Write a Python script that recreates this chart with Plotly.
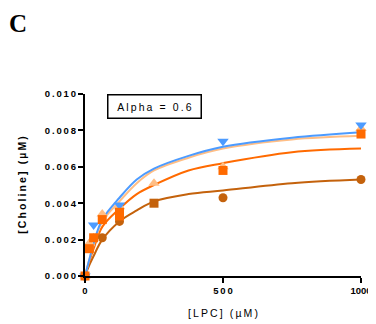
import plotly.graph_objects as go

# ---- data ----
lpc_fit = [0, 15.6, 31.25, 62.5, 125, 187.5, 250, 375, 500, 750, 1000]
fit_blue = [0, 0.0009, 0.0018, 0.0031, 0.0043, 0.0053, 0.0059, 0.0066, 0.0071, 0.0076, 0.0079]
fit_light = [0, 0.0009, 0.0017, 0.0030, 0.0041, 0.0051, 0.0058, 0.0065, 0.0070, 0.0075, 0.0077]
fit_orange = [0, 0.0008, 0.0015, 0.0027, 0.0037, 0.0045, 0.0050, 0.0058, 0.0062, 0.0068, 0.0070]
fit_brown = [0, 0.0006, 0.0011, 0.0020, 0.0030, 0.0036, 0.0041, 0.0045, 0.0047, 0.0051, 0.0053]

blue_x = [0, 31.25, 125, 500, 1000]
blue_y = [0, 0.0028, 0.0039, 0.0074, 0.0083]
light_x = [0, 15.6, 31.25, 62.5, 125, 250, 500, 1000]
light_y = [0, 0.0018, 0.0021, 0.0034, 0.0038, 0.0051, 0.0060, 0.0081]
orange_x = [0, 15.6, 31.25, 62.5, 125, 125, 500, 1000]
orange_y = [0, 0.0015, 0.0021, 0.0031, 0.0035, 0.0033, 0.0058, 0.0078]
brown_x = [0, 62.5, 125, 250, 500, 1000]
brown_y = [0, 0.0021, 0.0030, 0.0040, 0.0043, 0.0053]
brown_sym = ["circle", "circle", "circle", "square", "circle", "circle"]

y_ticks = [0, 0.002, 0.004, 0.006, 0.008, 0.010]
y_ticklabels = ["0.000", "0.002", "0.004", "0.006", "0.008", "0.010"]
x_ticks = [0, 500, 1000]
x_ticklabels = ["0", "500", "1000"]

C_BLUE = "#4C9BFF"
C_LIGHT = "#FFBE85"
C_ORANGE = "#FF6A00"
C_BROWN = "#C4620C"

TS = "\u2009"


def spaced(s):
    return TS.join(list(s))


fig = go.Figure()

for ys, col in [(fit_brown, C_BROWN), (fit_orange, C_ORANGE),
                (fit_light, C_LIGHT), (fit_blue, C_BLUE)]:
    fig.add_trace(go.Scatter(x=lpc_fit, y=ys, mode="lines",
                             line=dict(color=col, width=2, shape="spline", smoothing=1.0),
                             showlegend=False, hoverinfo="skip", cliponaxis=False))

fig.add_trace(go.Scatter(x=brown_x, y=brown_y, mode="markers",
                         marker=dict(color=C_BROWN, size=9, symbol=brown_sym),
                         showlegend=False, cliponaxis=False))
fig.add_trace(go.Scatter(x=light_x, y=light_y, mode="markers",
                         marker=dict(color=C_LIGHT, size=10, symbol="triangle-up"),
                         showlegend=False, cliponaxis=False))
fig.add_trace(go.Scatter(x=blue_x, y=blue_y, mode="markers",
                         marker=dict(color=C_BLUE, size=10, symbol="triangle-down"),
                         showlegend=False, cliponaxis=False))
fig.add_trace(go.Scatter(x=orange_x, y=orange_y, mode="markers",
                         marker=dict(color=C_ORANGE, size=9, symbol="square"),
                         showlegend=False, cliponaxis=False))

tick_font = dict(family="Liberation Sans", size=9.5, color="black", weight="bold")
x_ticktext = [spaced(t) for t in x_ticklabels[:-1]] + [x_ticklabels[-1]]

fig.update_layout(
    width=368, height=316, autosize=False,
    margin=dict(l=77, r=15, t=86, b=48),
    paper_bgcolor="white", plot_bgcolor="white",
    xaxis=dict(range=[0, 1000], showgrid=False, zeroline=False, automargin=False,
               showline=True, linecolor="black", linewidth=2,
               ticks="outside", ticklen=5, tickwidth=2, tickcolor="black",
               tickvals=x_ticks, ticktext=x_ticktext,
               tickfont=tick_font, ticklabeloverflow="allow",
               title=dict(text=spaced("[LPC] (µM)"), standoff=14,
                          font=dict(family="Liberation Sans", size=10.5, color="black"))),
    yaxis=dict(range=[0, 0.010], showgrid=False, zeroline=False, automargin=False,
               showline=True, linecolor="black", linewidth=2,
               ticks="outside", ticklen=5, tickwidth=2, tickcolor="black",
               tickvals=y_ticks, ticktext=[spaced(t) for t in y_ticklabels],
               tickfont=tick_font, ticklabeloverflow="allow",
               title=dict(text=spaced("[Choline] (µM)"), standoff=16,
                          font=dict(family="Liberation Sans", size=10.5, color="black",
                                    weight="bold"))),
    annotations=[
        dict(text=spaced("Alpha = 0.6"), xref="paper", yref="paper",
             x=0.2536, y=0.931, xanchor="center", yanchor="middle",
             showarrow=False, bordercolor="black", borderwidth=1.5,
             width=90, height=20, borderpad=1, bgcolor="white",
             font=dict(family="Liberation Sans", size=10.5, color="black")),
        dict(text="C", xref="paper", yref="paper", x=-0.241, y=1.387,
             xanchor="center", yanchor="middle", showarrow=False,
             font=dict(family="Liberation Serif", size=25, color="black",
                       weight="bold")),
    ],
)

fig.write_html("out.html")
